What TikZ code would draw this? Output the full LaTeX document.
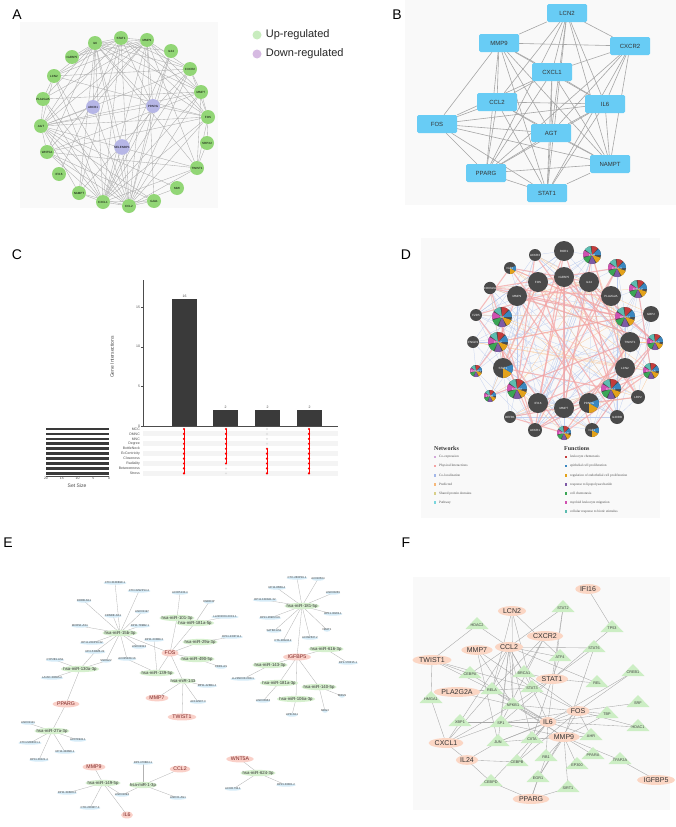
\documentclass[tikz,border=0pt]{standalone}
\usepackage{fontspec}
\setmainfont{Liberation Sans}
\newfontfamily\gmfont{Liberation Serif}
\usetikzlibrary{shapes.geometric,backgrounds,positioning}
\newcommand\fsz[1]{\fontsize{#1}{#1}\selectfont}
\definecolor{aGreen}{RGB}{146,214,118}
\definecolor{aPurple}{RGB}{182,182,230}
\definecolor{upc}{RGB}{200,236,190}
\definecolor{downc}{RGB}{214,186,226}
\definecolor{bBlue}{RGB}{104,204,245}
\definecolor{barc}{RGB}{58,58,58}
\definecolor{dGray}{RGB}{74,74,74}
\definecolor{fRed}{RGB}{196,60,60}
\definecolor{fBlue}{RGB}{58,135,192}
\definecolor{fOrange}{RGB}{227,162,26}
\definecolor{fPurple}{RGB}{126,90,166}
\definecolor{fGreen}{RGB}{58,166,85}
\definecolor{fPink}{RGB}{208,80,176}
\definecolor{fTeal}{RGB}{92,188,176}
\definecolor{nCoex}{RGB}{211,168,217}
\definecolor{nPhys}{RGB}{244,163,163}
\definecolor{nColoc}{RGB}{163,183,232}
\definecolor{nPred}{RGB}{247,185,122}
\definecolor{nDom}{RGB}{217,208,138}
\definecolor{nPath}{RGB}{122,214,221}
\definecolor{eLnc}{RGB}{214,236,248}
\definecolor{eMir}{RGB}{214,240,206}
\definecolor{eMrna}{RGB}{250,208,200}
\definecolor{eText}{RGB}{125,40,40}
\definecolor{fGene}{RGB}{251,214,196}
\definecolor{fTf}{RGB}{204,238,196}
\definecolor{panelbg}{RGB}{249,249,249}

\begin{document}
\begin{tikzpicture}[x=1pt,y=-1pt,
  panel/.style={inner sep=0, font=\fsz{14}},
  anode/.style={circle, fill=aGreen, minimum size=14, inner sep=0, font=\fsz{3}},
  apurple/.style={anode, fill=aPurple},
  aedge/.style={gray!65, line width=0.35},
  legdot/.style={circle, minimum size=9, inner sep=0},
  legtxt/.style={inner sep=0, font=\fsz{11}, text=black!85},
  bnode/.style={rectangle, rounded corners=1.5, fill=bBlue, minimum width=40, minimum height=18, inner sep=0, font=\fsz{6}, text=black!80},
  bedge/.style={gray!70, line width=0.6},
  ctick/.style={inner sep=0.8, font=\fsz{3.5}, text=black!70},
  dnode/.style={circle, fill=dGray, inner sep=0, text=white, font=\fsz{3}},
  dplain/.style={},
  dpie/.style={path picture={
      \foreach \a/\c in {0/fBlue,50/fRed,100/fTeal,150/fPink,200/fGreen,250/fPurple,300/fOrange}
        \fill[\c] (path picture bounding box.center) -- ++(\a:20pt) arc[start angle=\a, end angle=\a+42, radius=20pt] -- cycle;}},
  dpart/.style={path picture={
      \fill[fOrange] (path picture bounding box.center) -- ++(-90:20pt) arc[start angle=-90, end angle=-30, radius=20pt] -- cycle;
      \fill[fBlue] (path picture bounding box.center) -- ++(-30:20pt) arc[start angle=-30, end angle=20, radius=20pt] -- cycle;}},
  dsq/.style={rectangle, minimum size=2.6, inner sep=0},
  dleg/.style={inner sep=0, font=\gmfont\fsz{3.4}, text=black!70},
  dhead/.style={inner sep=0, font=\gmfont\bfseries\fsz{6}, text=black!80},
  lnc/.style={ellipse, fill=eLnc, inner xsep=-2, inner ysep=0.2, font=\fsz{2.8}, text=black!75},
  mir/.style={ellipse, fill=eMir, inner xsep=-3, inner ysep=0.2, font=\fsz{4.3}, text=black!80},
  mrna/.style={ellipse, fill=eMrna, inner sep=0.6, font=\fsz{5.2}, text=eText},
  eedge/.style={gray!60, line width=0.3},
  fgene/.style={ellipse, fill=fGene, inner sep=1, font=\fsz{7}, text=black!80},
  ftf/.style={inner sep=0.5, font=\fsz{3.8}, text=black!75},
  fedge/.style={gray!70, line width=0.35}]

\useasboundingbox (0,0) rectangle (676,827);
\begin{scope}[on background layer]
  \fill[white] (0,0) rectangle (676,827);
  \fill[panelbg] (20,22) rectangle (218,208);
  \fill[panelbg] (405,0) rectangle (676,205);
  \fill[panelbg] (421,238) rectangle (660,518);
  \fill[panelbg] (413,577) rectangle (670,810);
\end{scope}

% Panel letters
\node[panel] (labA) at (17,15) {A};
\node[panel] (labB) at (397,15) {B};
\node[panel] (labC) at (17,255) {C};
\node[panel] (labD) at (406,255) {D};
\node[panel] (labE) at (8,543) {E};
\node[panel] (labF) at (406,543) {F};

% ---------------- A: PPI circle
\foreach \n/\x/\y/\t in {IL6/95/43/IL6, STAT1/121/38/STAT1, MMP9/147/40/MMP9, IL24/171/51/IL24,
    CXCR2/190/69/CXCR2, MMP7/201/92/MMP7, FOS/208/117/FOS, SRPX2/207/143/SRPX2, TWIST1/197/168/TWIST1,
    MMI/177/188/MMI, GJA1/154/201/GJA1, CCL2/129/206/CCL2, CXCL1/103/202/CXCL1, NAMPT/79/193/NAMPT,
    IFI16/59/174/IFI16, WNT5A/47/152/WNT5A, AGT/41/126/AGT, PLA/43/99/PLA2G2A, LCN2/54/76/LCN2,
    IGFBP5/72/57/IGFBP5}
  \node[anode] (a\n) at (\x,\y) {\t};
\node[apurple] (aABCB1) at (93,107) {ABCB1};
\node[apurple] (aPPARG) at (153,106) {PPARG};
\node[apurple] (aSEL) at (122,147) {SELENBP1};
\begin{scope}[on background layer]
  \foreach \s/\e in {IL6/STAT1, IL6/MMP9, IL6/CXCR2, IL6/MMP7, IL6/FOS, IL6/TWIST1, IL6/CCL2, IL6/CXCL1,
      IL6/NAMPT, IL6/AGT, IL6/PLA, IL6/LCN2, IL6/IGFBP5, IL6/WNT5A, IL6/PPARG, IL6/SEL, IL6/IL24, IL6/ABCB1,
      STAT1/MMP9, STAT1/CXCR2, STAT1/CCL2, STAT1/CXCL1, STAT1/AGT, STAT1/LCN2, STAT1/PPARG, STAT1/FOS,
      STAT1/IGFBP5, STAT1/NAMPT, STAT1/MMP7, MMP9/CXCR2, MMP9/MMP7, MMP9/FOS, MMP9/TWIST1, MMP9/CCL2,
      MMP9/CXCL1, MMP9/AGT, MMP9/LCN2, MMP9/PLA, MMP9/WNT5A, MMP9/IGFBP5, MMP9/PPARG, MMP9/ABCB1, MMP9/GJA1,
      IL24/CXCL1, IL24/CCL2, IL24/PPARG, CXCR2/CXCL1, CXCR2/CCL2, CXCR2/AGT, CXCR2/LCN2, CXCR2/FOS,
      CXCR2/NAMPT, CXCR2/MMP7, MMP7/CCL2, MMP7/CXCL1, MMP7/AGT, MMP7/PLA, MMP7/WNT5A, MMP7/TWIST1, MMP7/FOS,
      FOS/CCL2, FOS/CXCL1, FOS/AGT, FOS/TWIST1, FOS/WNT5A, FOS/LCN2, FOS/PPARG, SRPX2/TWIST1, SRPX2/FOS,
      TWIST1/CCL2, TWIST1/AGT, TWIST1/WNT5A, TWIST1/CXCL1, MMI/CCL2, MMI/AGT, GJA1/CCL2, GJA1/CXCL1,
      GJA1/AGT, GJA1/WNT5A, CCL2/CXCL1, CCL2/AGT, CCL2/NAMPT, CCL2/WNT5A, CCL2/PLA, CCL2/LCN2, CCL2/PPARG,
      CCL2/SEL, CCL2/ABCB1, CXCL1/AGT, CXCL1/NAMPT, CXCL1/WNT5A, CXCL1/LCN2, CXCL1/PLA, CXCL1/SEL,
      CXCL1/PPARG, NAMPT/AGT, IFI16/STAT1, AGT/PLA, AGT/LCN2, AGT/WNT5A, AGT/PPARG, AGT/ABCB1, LCN2/PLA}
    \draw[aedge] (a\s) -- (a\e);
\end{scope}
% legend
\node[legdot, fill=upc] (lgUp) at (257,35) {};
\node[legtxt, right=4pt of lgUp] (ltUp) {Up-regulated};
\node[legdot, fill=downc] (lgDn) at (257,54) {};
\node[legtxt, right=4pt of lgDn] (ltDn) {Down-regulated};

% ---------------- B: hub genes
\foreach \n/\x/\y in {LCN2/567/13, MMP9/499/43, CXCR2/630/46, CXCL1/552/72, CCL2/497/102, IL6/605/104,
    FOS/437/124, AGT/551/133, NAMPT/610/164, PPARG/486/173, STAT1/547/193}
  \node[bnode] (b\n) at (\x,\y) {\n};
\begin{scope}[on background layer]
  \foreach \s/\e in {LCN2/MMP9, LCN2/CXCR2, LCN2/CXCL1, LCN2/CCL2, LCN2/AGT, LCN2/IL6, LCN2/NAMPT,
      LCN2/STAT1, LCN2/PPARG, MMP9/CXCR2, MMP9/CXCL1, MMP9/FOS, MMP9/CCL2, MMP9/AGT, MMP9/PPARG,
      MMP9/STAT1, MMP9/IL6, MMP9/NAMPT, CXCR2/CXCL1, CXCR2/IL6, CXCR2/AGT, CXCR2/STAT1, CXCR2/NAMPT,
      CXCR2/PPARG, CXCL1/CCL2, CXCL1/IL6, CXCL1/AGT, CXCL1/STAT1, CXCL1/PPARG, CXCL1/FOS, CXCL1/NAMPT,
      CCL2/IL6, CCL2/FOS, CCL2/AGT, CCL2/PPARG, CCL2/STAT1, CCL2/NAMPT, IL6/FOS, IL6/AGT, IL6/PPARG,
      IL6/STAT1, IL6/NAMPT, FOS/AGT, FOS/PPARG, FOS/STAT1, FOS/NAMPT, AGT/PPARG, AGT/STAT1, AGT/NAMPT,
      PPARG/NAMPT, PPARG/STAT1, STAT1/NAMPT}
    \draw[bedge] (b\s) -- (b\e);
\end{scope}

% ---------------- C: UpSet plot
\draw[black!70, line width=0.4] (143,280) -- (143,426) -- (338,426);
\foreach \v in {0,5,10,15} {
  \draw[black!70, line width=0.3] (141,{426-7.93*\v}) -- (143,{426-7.93*\v});
  \node[ctick, anchor=east] (cy\v) at (141,{426-7.93*\v}) {\v};
}
\node[ctick, rotate=90, font=\fsz{5}] (cytitle) at (112,357) {Gene Intersections};
\foreach \x/\h [count=\i] in {184.5/16, 225.5/2, 267.5/2, 309.5/2} {
  \fill[barc] ({\x-12.5},426) rectangle ({\x+12.5},{426-7.93*\h});
  \node[ctick, anchor=south] (cn\i) at (\x,{425-7.93*\h}) {\h};
}
\foreach \t [count=\i] in {MCC,DMNC,MNC,Degree,BottleNeck,EcCentricity,Closeness,Radiality,Betweenness,Stress} {
  \pgfmathsetmacro\yy{429+4.93*(\i-1)}
  \ifodd\i\else \fill[gray!9] (143,\yy-2.45) rectangle (338,\yy+2.45); \fi
  \fill[barc] (46,\yy-1.3) rectangle (109,\yy+1.3);
  \node[ctick, anchor=east, inner sep=0] (cs\i) at (140,\yy) {\t};
}
\foreach \x/\lo/\hi in {184/1/10, 226/1/8, 267/5/10, 309/1/10} {
  \foreach \r in {1,...,10} {
    \pgfmathsetmacro\yy{429+4.93*(\r-1)}
    \fill[gray!25] (\x,\yy) circle (1.1);
  }
  \draw[red, line width=0.7] (\x,{429+4.93*(\lo-1)}) -- (\x,{429+4.93*(\hi-1)});
  \foreach \r in {\lo,...,\hi} \fill[red] (\x,{429+4.93*(\r-1)}) circle (1.2);
}
\draw[black!70, line width=0.3] (46,476) -- (109,476);
\foreach \v/\x in {20/46, 15/61.75, 10/77.5, 5/93.25, 0/109}
  \node[ctick, anchor=north, inner sep=0.5] (cz\v) at (\x,476.5) {\v};
\node[ctick, font=\fsz{5}] (cset) at (77,486) {Set Size};

% ---------------- D: GeneMANIA
\foreach \x/\y/\r/\t/\p [count=\i] in {564/251/10/ROR1/dplain, 535/255/6/ACKR3/dplain, 592/255/9/IL6R/dpie,
    510/268/6/IGF2/dpart, 617/268/9/CXCL3/dpie, 538/282/10/FOS/dplain, 564/277/10/IGFBP5/dplain,
    589/282/10/IL24/dplain, 490/288/6/CDKN2A/dplain, 638/289/9/CXCL2/dpie, 517/296/10/MMP9/dplain,
    611/296/10/PLA2G2A/dplain, 476/315/6/FZD5/dplain, 502/317/10/IL6/dpie, 625/317/10/WNT5A/dpie,
    651/314/8/GBP2/dplain, 473/342/6/IFNGR1/dplain, 498/342/10/CCL2/dpie, 630/342/10/TWIST1/dplain,
    655/342/8/CXCL6/dpie, 476/371/6/CXCR1/dpie, 503/368/10/STAT1/dpart, 625/368/10/LCN2/dplain,
    651/371/8/CXCL5/dpie, 490/396/6/FPR1/dpie, 517/389/10/CXCR2/dpie, 611/389/10/CXCL1/dpie,
    638/397/7/LRP2/dplain, 538/403/10/IFI16/dplain, 564/408/10/MMP7/dplain, 589/403/10/PPARG/dpart,
    510/417/6/DEFB1/dplain, 617/417/7/IL20RB/dplain, 535/430/7/ACKR1/dplain, 592/430/7/IGF1/dpart,
    564/433/7/CXCL8/dpie}
  \node[dnode, \p, minimum size={2*\r}] (d\i) at (\x,\y) {\t};
\begin{scope}[on background layer]
  \pgfmathsetseed{11}
  \foreach \k in {1,...,130} {
    \pgfmathtruncatemacro\p{random(1,36)}
    \pgfmathtruncatemacro\q{random(1,36)}
    \ifnum\p=\q\else \draw[nColoc!70, line width=0.25] (d\p) -- (d\q); \fi
  }
  \foreach \k in {1,...,40} {
    \pgfmathtruncatemacro\p{random(1,36)}
    \pgfmathtruncatemacro\q{random(1,36)}
    \ifnum\p=\q\else \draw[nPred!70, line width=0.3] (d\p) -- (d\q); \fi
  }
  \foreach \k in {1,...,55} {
    \pgfmathtruncatemacro\p{random(1,36)}
    \pgfmathtruncatemacro\q{random(1,36)}
    \ifnum\p=\q\else \draw[nPhys, opacity=0.7, line width=1.1] (d\p) -- (d\q); \fi
  }
\end{scope}
\node[dhead, anchor=west] (dnet) at (434,448) {Networks};
\foreach \t/\c [count=\i] in {Co-expression/nCoex, Physical Interactions/nPhys, Co-localization/nColoc,
    Predicted/nPred, Shared protein domains/nDom, Pathway/nPath}
  \node[dsq, fill=\c] (ns\i) at (435,{457+9.1*(\i-1)}) {};
\foreach \t [count=\i] in {Co-expression, Physical Interactions, Co-localization, Predicted,
    Shared protein domains, Pathway}
  \node[dleg, right=2.5pt of ns\i] (nt\i) {\t};
\node[dhead, anchor=west] (dfun) at (564,448) {Functions};
\foreach \c [count=\i] in {fRed, fBlue, fOrange, fPurple, fGreen, fPink, fTeal}
  \node[dsq, fill=\c] (fs\i) at (566,{457+9.1*(\i-1)}) {};
\foreach \t [count=\i] in {leukocyte chemotaxis, epithelial cell proliferation,
    regulation of endothelial cell proliferation, response to lipopolysaccharide, cell chemotaxis,
    myeloid leukocyte migration, cellular response to biotic stimulus}
  \node[dleg, right=2.5pt of fs\i] (ft\i) {\t};

% ---------------- E: ceRNA network
\foreach \n/\x/\y/\t in {l1/115/583/CTD-3138B18.1, l2/139/591/CTD-2292P14.2, l3/84/601/RORB-AS1,
    l4/142/612/LINC01197, l5/113/616/CRNDE-AS1, l6/80/626/MCRS1-AS1, l7/140/626/RP11-789B2.1,
    l8/92/643/RP11-229P13.22, l9/95/652/RP4-539M6.22, l10/139/647/LINC02323, l11/106/661/SNHG22,
    l12/127/659/AC025469.16, l13/154/640/RP11-233B9.2, l14/180/593/AC005133.4, l15/209/602/DNER3P,
    l16/225/617/LL22NC03-23C1.1, l17/232/637/RP11-223P11.1, l18/221/667/CDR1-AS, l19/207/686/RP11-428B4.4,
    l20/198/702/AC112907.3, l21/55/660/CYP2E1-AS1, l22/52/678/LA16C-306A5.2, l23/28/723/LINC01121,
    l24/30/743/CTD-2283D21.1, l25/78/740/AC078941.1, l26/65/752/RP11-448M6.1, l27/39/760/RP11-30J21.4,
    l28/67/793/RP11-396K3.2, l29/90/808/CTD-2008P7.3, l30/143/763/RP3-470B24.1, l31/122/795/LINC01093,
    l32/178/798/LINC01-AS1, l33/233/789/AC021734.1, l34/297/578/CTC-283P19.1, l35/318/579/AC010504,
    l36/277/588/RP11-85B9.4, l37/333/593/LINC00265, l38/265/600/RP11-1390A1.22, l39/333/614/RP11-30W4.1,
    l40/270/618/RP11-269C24.6, l41/274/631/SATB2-AS1, l42/327/630/NEAT1, l43/283/641/CTA-28G43.2,
    l44/310/638/AC092637.2, l45/348/663/RP1-178F15.1, l46/243/679/LL22NC03-2H8.1, l47/263/701/LINC00963,
    l48/342/696/MIR29, l49/325/711/MEG3, l50/292/715/LIPE-AS1, l51/286/785/RP11-33381.2}
  \node[lnc] (e\n) at (\x,\y) {\t};
\foreach \n/\x/\y/\t in {m15b/120/633/hsa-miR-15b-3p, m101/177/618/hsa-miR-101-3p,
    m181a/195/623/hsa-miR-181a-5p, m29a/200/642/hsa-miR-29a-3p, m490/197/659/hsa-miR-490-5p,
    m139/157/673/hsa-miR-139-5p, m143/183/681/hsa-miR-143, m130a/80/669/hsa-miR-130a-3p,
    m27a/52/731/hsa-miR-27a-3p, m149/103/783/hsa-miR-149-5p, m1/143/785/hsa-miR-1-3p,
    m181/302/606/hsa-miR-181-5p, m616/326/649/hsa-miR-616-3p, m143b/270/665/hsa-miR-143-3p,
    m181a3/279/683/hsa-miR-181a-3p, m140/319/687/hsa-miR-140-5p, m106a/296/699/hsa-miR-106a-3p,
    m624/258/773/hsa-miR-624-3p}
  \node[mir] (e\n) at (\x,\y) {\t};
\foreach \n/\x/\y in {FOS/170/653, MMP7/157/698, TWIST1/182/717, PPARG/66/704, MMP9/94/767,
    IL6/127/815, CCL2/180/769, IGFBP5/297/657, WNT5A/240/759}
  \node[mrna] (e\n) at (\x,\y) {\n};
\begin{scope}[on background layer]
  \foreach \s/\e in {m15b/l1, m15b/l2, m15b/l3, m15b/l4, m15b/l5, m15b/l6, m15b/l7, m15b/l8, m15b/l9,
      m15b/l10, m15b/l11, m15b/l12, m15b/FOS, m130a/l9, m130a/l11, m130a/l21, m130a/l22, m130a/PPARG,
      m139/l12, m139/l13, m139/FOS, m101/FOS, m101/l14, m181a/FOS, m181a/l15, m181a/l16, m29a/FOS,
      m29a/l17, m490/FOS, m490/l18, m143/FOS, m143/l19, m143/l20, m143/MMP7, m143/TWIST1,
      m27a/PPARG, m27a/l23, m27a/l24, m27a/l25, m27a/l26, m27a/l27, m149/MMP9, m149/l28, m149/l29,
      m149/IL6, m149/l31, m1/l31, m1/l30, m1/CCL2, m1/l32, m181/l34, m181/l35, m181/l36, m181/l37,
      m181/l38, m181/l39, m181/l40, m181/l41, m181/l42, m181/l43, m181/l44, m181/IGFBP5,
      IGFBP5/m616, IGFBP5/m143b, IGFBP5/m181a3, IGFBP5/m140, IGFBP5/m106a, m616/l45, m143b/l46,
      m181a3/l47, m140/l48, m140/l49, m106a/l50, WNT5A/m624, m624/l33, m624/l51}
    \draw[eedge] (e\s.center) -- (e\e.center);
\end{scope}

% ---------------- F: TF regulatory network
\foreach \n/\x/\y in {IFI16/588/589, LCN2/512/611, CXCR2/545/636, CCL2/509/647, MMP7/477/650,
    TWIST1/432/660, STAT1/552/679, PLA2G2A/457/692, FOS/578/711, IL6/548/722, MMP9/564/737,
    CXCL1/446/743, IL24/467/760, IGFBP5/656/780, PPARG/531/799}
  \node[fgene] (f\n) at (\x,\y) {\n};
% transcription factors: triangle drawn under the label
\foreach \n/\x/\y in {STAT2/563/608, HDAC2/477/625, TP53/612/628, STAT6/594/648, ATF4/560/657,
    CREB1/633/672, CEBPA/470/674, BRCA1/524/673, REL/597/683, RELA/492/690, STAT3/532/688,
    HMGA1/431/699, NFKB1/513/705, SRF/638/703, TBP/607/714, HDAC1/638/727, XBP1/460/722, SP1/501/723,
    AHR/591/736, CIITA/532/739, JUN/498/742, PPARA/593/755, TFAP2A/620/760, RB1/546/757,
    CEBPB/517/762, EP300/577/765, EGR1/538/778, CEBPD/491/782, SIRT1/568/788} {
  \fill[fTf] (\x-11.5,\y+4) -- (\x+11.5,\y+4) -- (\x,\y-8) -- cycle;
  \node[ftf] (f\n) at (\x,\y) {\n};
}
\begin{scope}[on background layer]
  \foreach \s/\e in {IFI16/TP53, TP53/STAT1, STAT6/STAT1, STAT6/MMP9, STAT2/CCL2, STAT2/STAT1, STAT2/IL6,
      LCN2/NFKB1, LCN2/STAT3, LCN2/RELA, LCN2/ATF4, HDAC2/TWIST1, HDAC2/CCL2, CXCR2/RELA, CXCR2/SP1,
      CXCR2/BRCA1, CCL2/CEBPA, CCL2/RELA, CCL2/NFKB1, CCL2/STAT3, CCL2/ATF4, CCL2/REL, CCL2/JUN,
      CCL2/SP1, CCL2/XBP1, CCL2/BRCA1, CCL2/CIITA, CCL2/STAT6, MMP7/NFKB1, MMP7/JUN, MMP7/STAT3,
      TWIST1/HMGA1, TWIST1/CEBPA, TWIST1/STAT3, TWIST1/RELA, CREB1/IL6, CREB1/FOS, HMGA1/CXCL1,
      STAT1/BRCA1, STAT1/NFKB1, STAT1/REL, STAT1/ATF4, STAT1/SP1, STAT1/CIITA, STAT1/STAT3,
      PLA2G2A/RELA, PLA2G2A/NFKB1, PLA2G2A/STAT3, FOS/SRF, FOS/TBP, FOS/HDAC1, FOS/NFKB1, FOS/SP1,
      FOS/CEBPB, FOS/STAT3, FOS/JUN, FOS/AHR, FOS/BRCA1, FOS/EGR1, IL6/SP1, IL6/XBP1, IL6/NFKB1,
      IL6/TBP, IL6/RELA, IL6/CEBPB, IL6/CEBPD, IL6/JUN, IL6/STAT3, IL6/HDAC1, IL6/CIITA, IL6/RB1,
      IL6/AHR, IL6/CEBPA, MMP9/AHR, MMP9/TFAP2A, MMP9/PPARA, MMP9/EP300, MMP9/SIRT1, MMP9/CIITA,
      MMP9/JUN, MMP9/NFKB1, MMP9/SP1, MMP9/RELA, MMP9/RB1, MMP9/TBP, MMP9/EGR1, CXCL1/XBP1, CXCL1/RELA,
      CXCL1/NFKB1, CXCL1/SP1, CXCL1/IL24, IL24/JUN, IL24/CEBPB, IL24/CEBPD, IGFBP5/TFAP2A,
      PPARG/CEBPD, PPARG/EGR1, PPARG/SIRT1, PPARG/RB1}
    \draw[fedge] (f\s.center) -- (f\e.center);
\end{scope}
\end{tikzpicture}
\end{document}
